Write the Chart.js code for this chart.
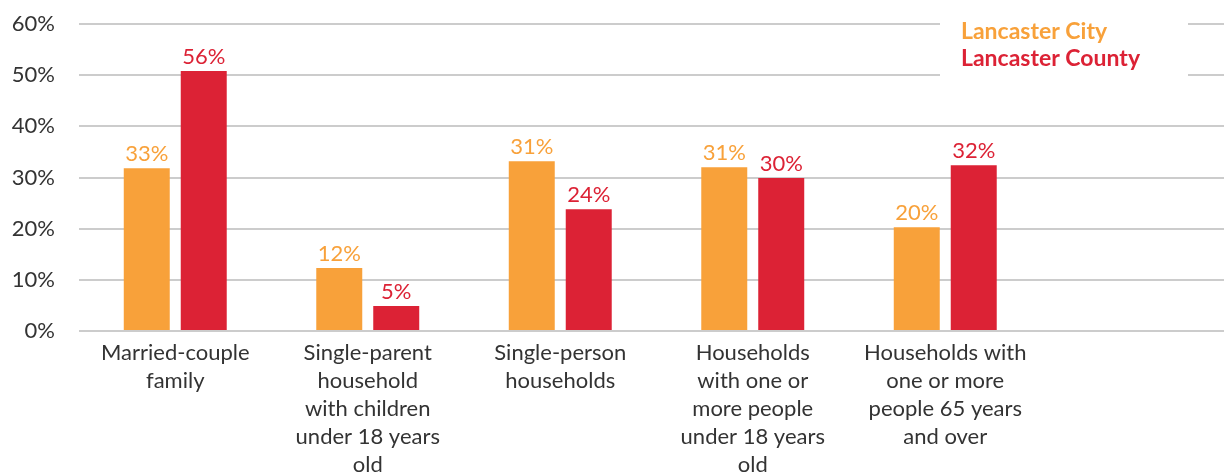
<!DOCTYPE html>
<html>
<head>
<meta charset="utf-8">
<script src="https://cdn.jsdelivr.net/npm/chart.js@4"></script>
<style>
    html, body { margin: 0; padding: 0; background: #fff; overflow: hidden; }
    #wrap { width: 1234px; height: 473px; }
</style>
</head>
<body>
<div id="wrap"><canvas id="householdChart"></canvas></div>
<script>
// categories (last slot is left empty, as in the original layout)
const categories = [
    ['Married-couple', 'family'],
    ['Single-parent', 'household', 'with children', 'under 18 years', 'old'],
    ['Single-person', 'households'],
    ['Households', 'with one or', 'more people', 'under 18 years', 'old'],
    ['Households with', 'one or more', 'people 65 years', 'and over'],
    ''
];
// bar heights as drawn
const cityValues = [31.8, 12.3, 33.2, 32.0, 20.3, null];
const countyValues = [50.8, 4.9, 23.8, 29.9, 32.4, null];
// printed labels above the bars
const cityLabels = ['33%', '12%', '31%', '31%', '20%', ''];
const countyLabels = ['56%', '5%', '24%', '30%', '32%', ''];
const yTicks = [0, 10, 20, 30, 40, 50, 60];

const orange = '#f8a13a';
const red = '#dc2235';
const fontFamily = 'Lato, "Noto Sans", sans-serif';

const barLabels = {
    id: 'barLabels',
    afterDatasetsDraw(chart) {
        const ctx = chart.ctx;
        const texts = [cityLabels, countyLabels];
        ctx.save();
        ctx.font = '22px ' + fontFamily;
        ctx.textAlign = 'center';
        ctx.textBaseline = 'bottom';
        chart.data.datasets.forEach(function (ds, i) {
            chart.getDatasetMeta(i).data.forEach(function (bar, j) {
                if (ds.data[j] == null) return;
                ctx.fillStyle = ds.backgroundColor;
                ctx.fillText(texts[i][j], bar.x, bar.y - 3);
            });
        });
        ctx.restore();
    }
};

const cornerLegend = {
    id: 'cornerLegend',
    afterDraw(chart) {
        const ctx = chart.ctx;
        ctx.save();
        ctx.fillStyle = '#ffffff';
        ctx.fillRect(940, 8, 248, 80);
        ctx.font = 'bold 23px ' + fontFamily;
        ctx.textAlign = 'left';
        ctx.textBaseline = 'middle';
        chart.data.datasets.forEach(function (ds, i) {
            ctx.fillStyle = ds.backgroundColor;
            ctx.fillText(ds.label, 961, 32 + i * 27);
        });
        ctx.restore();
    }
};

document.addEventListener('DOMContentLoaded', function () {
    const ctx = document.getElementById('householdChart').getContext('2d');
    new Chart(ctx,
    {
        type: 'bar',
        data:
        {
            labels: categories,
            datasets: [{
                label: 'Lancaster City',
                data: cityValues,
                backgroundColor: orange
            }, {
                label: 'Lancaster County',
                data: countyValues,
                backgroundColor: red
            }]
        },
        options:
        {
            responsive: true,
            maintainAspectRatio: false,
            animation: false,
            datasets: {
                bar: { categoryPercentage: 0.592, barPercentage: 0.807 }
            },
            layout: { padding: { top: 24, left: 0, right: 0, bottom: 0 } },
            plugins: {
                legend: { display: false },
                tooltip: { enabled: false }
            },
            scales: {
                x: {
                    grid: { display: false },
                    border: { display: false },
                    ticks: {
                        color: '#333',
                        font: { family: fontFamily, size: 22, lineHeight: 1.27 },
                        padding: 0,
                        maxRotation: 0,
                        autoSkip: false
                    },
                    afterFit: function (axis) { axis.height = 142; }
                },
                y: {
                    min: 0,
                    max: 60,
                    afterBuildTicks: function (axis) {
                        axis.ticks = yTicks.map(function (v) { return { value: v }; });
                    },
                    grid: {
                        color: '#cccccc',
                        lineWidth: 2,
                        drawTicks: true,
                        tickLength: 24,
                        tickColor: 'rgba(0,0,0,0)'
                    },
                    border: { display: false },
                    ticks: {
                        color: '#333',
                        font: { family: fontFamily, size: 22 },
                        padding: 0,
                        callback: function (v) { return v + '%'; }
                    },
                    afterFit: function (axis) { axis.width = 79; }
                }
            }
        },
        plugins: [barLabels, cornerLegend]
    });
});
</script>
</body>
</html>
